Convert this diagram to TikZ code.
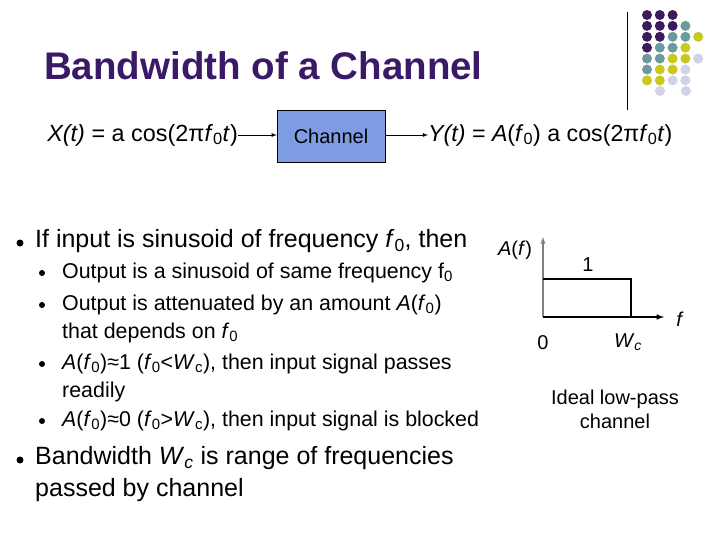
\documentclass[tikz,border=0pt]{standalone}
\usepackage{fontspec}
\setmainfont{Liberation Sans}
\definecolor{P}{HTML}{3D1A5C}
\definecolor{T}{HTML}{6B9A9C}
\definecolor{Y}{HTML}{C8C81E}
\definecolor{L}{HTML}{D0D3E6}
\definecolor{title}{HTML}{3A1A66}
\definecolor{boxblue}{HTML}{7F9CE3}
\newcommand{\sbs}[1]{\textsubscript{#1}}
\begin{document}
\begin{tikzpicture}[x=1pt,y=-1pt,
    dot/.style={circle,inner sep=0pt,minimum size=10pt},
    txt/.style={anchor=west,inner sep=0pt,font=\fontsize{25}{28}\selectfont},
    sub/.style={anchor=west,inner sep=0pt,font=\fontsize{21.4}{24}\selectfont},
    lbl/.style={font=\fontsize{20}{22}\selectfont},
    bul/.style={circle,fill=black,inner sep=0pt,minimum size=7pt},
    sbul/.style={circle,fill=black,inner sep=0pt,minimum size=6pt},
    arr/.style={-latex,thick}]
\useasboundingbox (0,0) rectangle (720,540);
% decoration
\draw[thick] (627,12) -- (627,110);
\foreach \r/\row in {0/{P,P,P},1/{P,P,P,T},2/{P,P,T,T,Y},3/{P,T,T,Y},4/{T,T,Y,Y,L},5/{T,Y,Y,L},6/{Y,Y,L,L}}{
  \foreach \c [count=\i from 0] in \row {
    \node[dot,fill=\c] at ({647+12.8*\i},{15+10.9*\r}) {};
  }
}
\node[dot,fill=L] at (660,91) {};
\node[dot,fill=L] at (686,91) {};
% title
\node[anchor=west,inner sep=0pt,text=title,font=\fontsize{38.5}{42}\selectfont\bfseries] (ttl) at (44,66) {Bandwidth of a Channel};
% block diagram
\node[draw,fill=boxblue,minimum width=108pt,minimum height=52pt,inner sep=0pt,font=\fontsize{20}{22}\selectfont] (ch) at (331,136) {Channel};
\node[anchor=east,inner sep=0pt,font=\fontsize{23.4}{26}\selectfont] (x) at (238,135) {\textit{X(t)} = a cos(2π\textit{f}\sbs{0}\textit{t})};
\node[anchor=west,inner sep=0pt,font=\fontsize{23.2}{26}\selectfont] (y) at (428,135) {\textit{Y(t)} = \textit{A}(\textit{f}\sbs{0}) a cos(2π\textit{f}\sbs{0}\textit{t})};
\draw[arr] (x.east) -- (ch.west |- x.east);
\draw[arr] (ch.east |- y.west) -- (y.west);
% bullets
\node[bul] (b1) at (20,243) {};
\node[txt] at (35,241) {If input is sinusoid of frequency \textit{f}\sbs{0}, then};
\node[sbul] (s1) at (42,273) {};
\node[sub] at (62,273) {Output is a sinusoid of same frequency f\sbs{0}};
\node[sbul] (s2) at (42,305) {};
\node[sub] at (62,305) {Output is attenuated by an amount \textit{A}(\textit{f}\sbs{0})};
\node[sub] at (62,333) {that depends on \textit{f}\sbs{0}};
\node[sbul] (s3) at (42,364) {};
\node[sub] at (62,364) {\textit{A}(\textit{f}\sbs{0})≈1 (\textit{f}\sbs{0}<\textit{W}\sbs{c}), then input signal passes};
\node[sub] at (62,392) {readily};
\node[sbul] (s4) at (42,421) {};
\node[sub] at (62,421) {\textit{A}(\textit{f}\sbs{0})≈0 (\textit{f}\sbs{0}>\textit{W}\sbs{c}), then input signal is blocked};
\node[bul] (b2) at (20,460) {};
\node[txt] at (35,458) {Bandwidth \textit{W}\sbs{\textit{c}} is range of frequencies};
\node[txt] at (35,490) {passed by channel};
% graph
\coordinate (o) at (543,317);
\coordinate (top) at (543,237);
\coordinate (fe) at (664,317);
\coordinate (ul) at (543,279);
\coordinate (ur) at (631,279);
\coordinate (lr) at (631,317);
\draw[gray,line width=1.3pt,-latex] (o) -- (top);
\draw[line width=1.5pt,-latex] (o) -- (fe);
\draw[line width=1.5pt] (ul) -- (ur) -- (lr);
\node[lbl] at (515,250) {\textit{A}(\textit{f})};
\node[lbl] at (588,265) {1};
\node[lbl] at (543,343) {0};
\node[lbl] at (628,342) {\textit{W}\sbs{\textit{c}}};
\node[lbl] at (680,319) {\textit{f}};
\node[lbl,align=center,font=\fontsize{20}{24}\selectfont] at (615,409) {Ideal low-pass\\channel};
\end{tikzpicture}
\end{document}
